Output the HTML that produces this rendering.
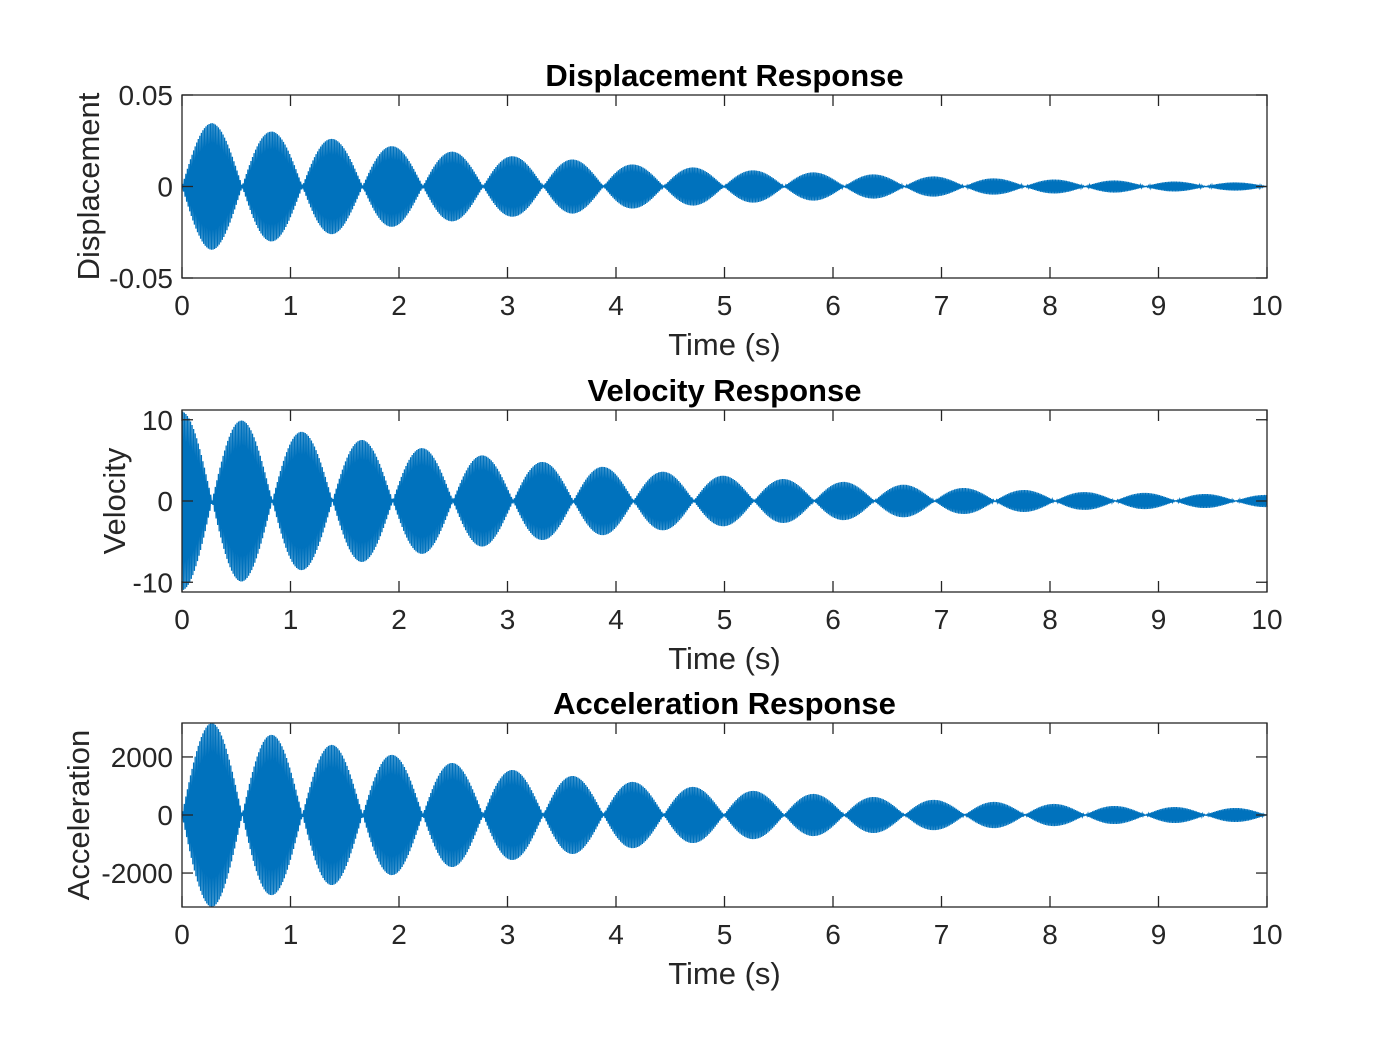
<!DOCTYPE html>
<html><head><meta charset="utf-8"><style>
html,body{margin:0;padding:0;background:#fff;}
svg{display:block;font-family:"Liberation Sans",Arial,sans-serif;}
</style></head><body>
<svg id="fig" width="1400" height="1050" viewBox="0 0 1400 1050"></svg>
<script>
// ---- data ----
const xTicks = [0,1,2,3,4,5,6,7,8,9,10];
const dispPeakTimes = [0.28,0.83,1.39,1.94,2.5,3.05,3.6,4.16,4.72,5.27,5.83,6.38,6.94,7.5,8.05,8.6,9.16,9.72];
const dispPeaks = [0.0346,0.030,0.026,0.022,0.019,0.0165,0.0148,0.012,0.0104,0.0088,0.0077,0.0066,0.0055,0.0044,0.0038,0.0033,0.0027,0.0022];
const velPeakTimes = [0,0.555,1.11,1.665,2.22,2.775,3.33,3.885,4.44,5.0,5.55,6.1,6.66,7.2,7.77,8.3,8.88,9.44,10];
const velPeaks = [11,9.9,8.5,7.5,6.5,5.6,4.8,4.2,3.6,3.1,2.7,2.35,2.0,1.6,1.35,1.1,1.0,0.86,0.74];
const accPeakTimes = dispPeakTimes;
const accPeaks = [3170,2760,2410,2070,1790,1550,1345,1140,965,830,725,620,520,450,380,310,275,240];
const dispTicks = [-0.05,0,0.05], dispTickLabels = ['-0.05','0','0.05'];
const velTicks = [-10,0,10], velTickLabels = ['-10','0','10'];
const accTicks = [-2000,0,2000], accTickLabels = ['-2000','0','2000'];
const beatPeriod = 0.555;
// ---- drawing ----
const NS='http://www.w3.org/2000/svg';
const svg=document.getElementById('fig');
function mk(tag,attrs,parent){const e=document.createElementNS(NS,tag);for(const k in attrs)e.setAttribute(k,attrs[k]);(parent||svg).appendChild(e);return e;}
function interp(ts,vs,t){if(t<=ts[0])return vs[0];for(let i=1;i<ts.length;i++){if(t<=ts[i]){const f=(t-ts[i-1])/(ts[i]-ts[i-1]);return vs[i-1]+f*(vs[i]-vs[i-1]);}}return vs[vs.length-1];}
const X0=182,X1=1267;
const xs=t=>X0+(X1-X0)*t/10;
const panels=[
 {name:'displacement',top:95,bot:278,ymin:-0.05,ymax:0.05,ticks:dispTicks,labels:dispTickLabels,pt:dispPeakTimes,pv:dispPeaks,phase:0,title:'Displacement Response',ylab:'Displacement',ylx:88},
 {name:'velocity',top:410,bot:592,ymin:-11.2,ymax:11.2,ticks:velTicks,labels:velTickLabels,pt:velPeakTimes,pv:velPeaks,phase:0.5,title:'Velocity Response',ylab:'Velocity',ylx:114},
 {name:'acceleration',top:723,bot:907,ymin:-3170,ymax:3170,ticks:accTicks,labels:accTickLabels,pt:accPeakTimes,pv:accPeaks,phase:0,title:'Acceleration Response',ylab:'Acceleration',ylx:78}
];
panels.forEach(p=>{
 const g=mk('g',{});
 
 
 const ys=v=>p.bot-(p.bot-p.top)*(v-p.ymin)/(p.ymax-p.ymin);
 let d='';const N=1400;
 for(let i=0;i<=N;i++){
  const t=10*i/N;
  const shape=Math.abs(Math.sin(Math.PI*(t/beatPeriod+p.phase)));
  const a=interp(p.pt,p.pv,t)*shape*(i%2?1:-1);
  d+=(i?'L':'M')+xs(t).toFixed(2)+' '+ys(a).toFixed(2);
 }
 const line=mk('path',{d:d,fill:'none',stroke:'#0072BD','stroke-width':1.3},g);
 
 
 mk('rect',{x:X0,y:p.top,width:X1-X0,height:p.bot-p.top,fill:'none',stroke:'#262626','stroke-width':1.3},g);
 xTicks.forEach(v=>{
  const x=xs(v);
  mk('line',{x1:x,x2:x,y1:p.bot,y2:p.bot-11,stroke:'#262626','stroke-width':1.3},g);
  mk('line',{x1:x,x2:x,y1:p.top,y2:p.top+11,stroke:'#262626','stroke-width':1.3},g);
  const tl=mk('text',{x:x,y:p.bot+37,'text-anchor':'middle','font-size':28,fill:'#262626'},g);
  tl.textContent=v;
  
  
 });
 p.ticks.forEach((v,i)=>{
  const y=ys(v);
  mk('line',{x1:X0,x2:X0+11,y1:y,y2:y,stroke:'#262626','stroke-width':1.3},g);
  mk('line',{x1:X1,x2:X1-11,y1:y,y2:y,stroke:'#262626','stroke-width':1.3},g);
  const tl=mk('text',{x:X0-9,y:y+10,'text-anchor':'end','font-size':28,fill:'#262626'},g);
  tl.textContent=p.labels[i];
  
  
 });
 const xl=mk('text',{x:(X0+X1)/2,y:p.bot+77,'text-anchor':'middle','font-size':31,fill:'#262626'},g);
 xl.textContent='Time (s)';
 
 
 const cy=(p.top+p.bot)/2;
 const yl=mk('text',{x:p.ylx,y:cy+11,'text-anchor':'middle','font-size':31,fill:'#262626',transform:`rotate(-90 ${p.ylx} ${cy})`},g);
 yl.textContent=p.ylab;
 
 
 const tt=mk('text',{x:(X0+X1)/2,y:p.top-9,'text-anchor':'middle','font-size':31,'font-weight':'bold',fill:'#000'},g);
 tt.textContent=p.title;
 
 
});
</script>
</body></html>
